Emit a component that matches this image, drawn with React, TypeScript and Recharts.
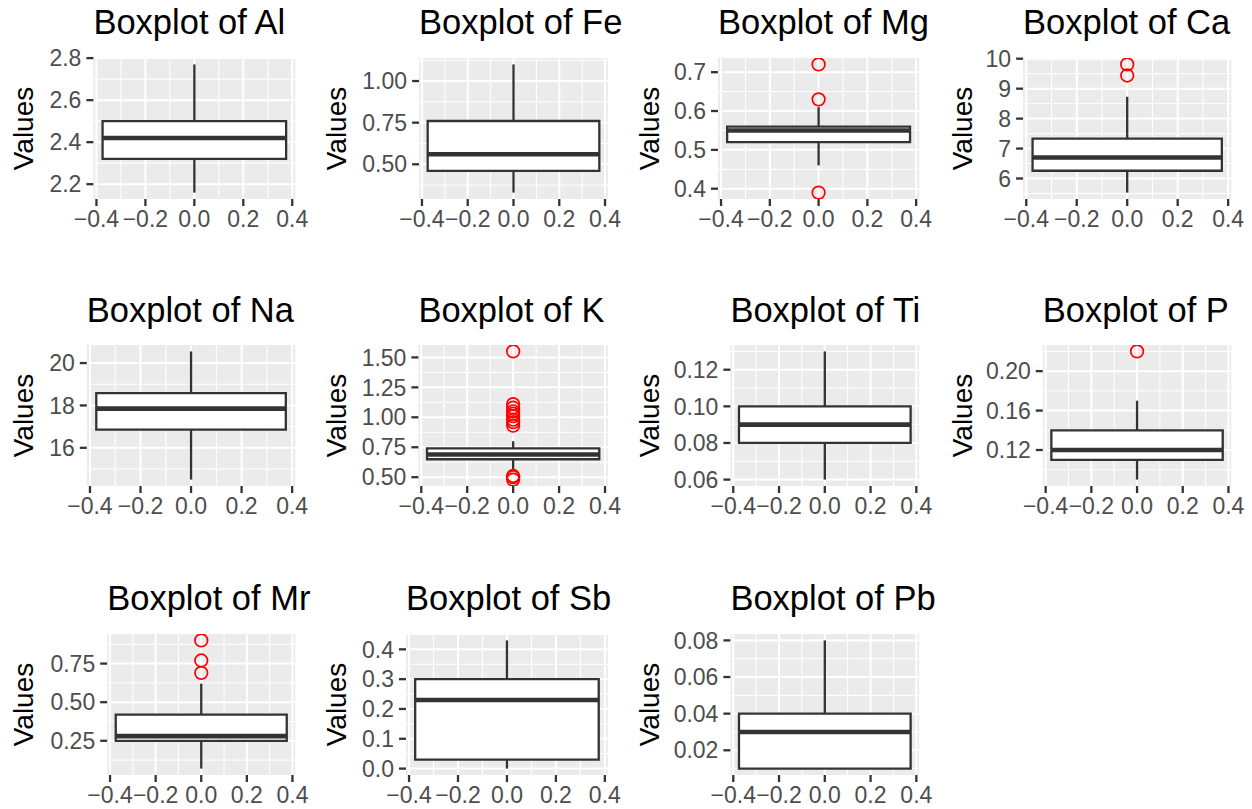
import React from 'react';
import {
  ComposedChart,
  XAxis,
  YAxis,
  CartesianGrid,
  ReferenceArea,
  ReferenceLine,
  Scatter,
} from 'recharts';

// ---------------- data ----------------
const elements = ['Al', 'Fe', 'Mg', 'Ca', 'Na', 'K', 'Ti', 'P', 'Mr', 'Sb', 'Pb'];
const whiskerLow = [2.16, 0.33, 0.46, 5.53, 14.5, 0.56, 0.06, 0.09, 0.07, 0.0, 0.01];
const lowerQuartile = [2.32, 0.46, 0.52, 6.26, 16.86, 0.65, 0.08, 0.11, 0.25, 0.03, 0.01];
const medianValues = [2.42, 0.56, 0.55, 6.7, 17.85, 0.69, 0.09, 0.12, 0.28, 0.23, 0.03];
const upperQuartile = [2.5, 0.76, 0.56, 7.33, 18.58, 0.74, 0.1, 0.14, 0.42, 0.3, 0.04];
const whiskerHigh = [2.77, 1.1, 0.61, 8.73, 20.55, 0.8, 0.13, 0.17, 0.62, 0.43, 0.08];
const outlierValues: number[][] = [
  [],
  [],
  [0.72, 0.63, 0.39],
  [9.81, 9.44],
  [],
  [1.55, 1.11, 1.08, 1.05, 1.03, 1.01, 0.98, 0.96, 0.93, 0.51, 0.5, 0.48],
  [],
  [0.22],
  [0.9, 0.77, 0.69],
  [],
  [],
];
const yTickValues: number[][] = [
  [2.2, 2.4, 2.6, 2.8],
  [0.5, 0.75, 1.0],
  [0.4, 0.5, 0.6, 0.7],
  [6, 7, 8, 9, 10],
  [16, 18, 20],
  [0.5, 0.75, 1.0, 1.25, 1.5],
  [0.06, 0.08, 0.1, 0.12],
  [0.12, 0.16, 0.2],
  [0.25, 0.5, 0.75],
  [0, 0.1, 0.2, 0.3, 0.4],
  [0.02, 0.04, 0.06, 0.08],
];
const yTickDecimals = [1, 2, 1, 0, 0, 2, 2, 2, 2, 1, 2];
const xTickValues = [-0.4, -0.2, 0, 0.2, 0.4];
const titlePrefix = 'Boxplot of ';
const yAxisTitle = 'Values';

// ---------------- layout / style ----------------
const FONT = '"Liberation Sans", Arial, Helvetica, sans-serif';
const CELL_W = 313;
const COL_X = [0, 313, 626, 939];
const ROW_PANEL_TOP = [57.7, 345.3, 633.6];
const PANEL_H = 141;
const RIGHT_MARGIN = [17.7, 18.1, 19.8, 20.7];
const Y_AXIS_W = [93.4, 106.1, 92, 84.1, 86.8, 105.4, 104.4, 103.8, 107.2, 93, 104.4];
const PAD = 16;
const XAXIS_H = 46;
const TITLE_SIZE = 34.5;
const TICK_SIZE = 23;
const AXIS_TITLE_SIZE = 28;
const BOX_HALF = 0.375;
const X_DOMAIN: [number, number] = [-BOX_HALF * 1.1, BOX_HALF * 1.1];
const DARK = '#333333';
const TICK_TEXT = '#4D4D4D';
const PANEL_BG = '#EBEBEB';
const LINE_W = 2.3;
const MEDIAN_W = 4.6;

function fmtX(v: number) {
  const s = Math.abs(v).toFixed(1);
  return v < -1e-9 ? '\u2212' + s : s;
}

function minorBreaks(major: number[], lo: number, hi: number) {
  const step = major[1] - major[0];
  const out: number[] = [];
  out.push(major[0] - step / 2);
  for (let k = 0; k < major.length - 1; k++) out.push((major[k] + major[k + 1]) / 2);
  out.push(major[major.length - 1] + step / 2);
  return out.filter((v) => v > lo && v < hi);
}

const OutlierShape = (p: any) => (
  <circle cx={p.cx} cy={p.cy} r={6.3} fill="none" stroke="#FF0000" strokeWidth={1.7} />
);

const ValuesLabel = (props: any) => {
  const vb = props && props.viewBox ? props.viewBox : {};
  const x = (vb.x ?? 0) + 33.3;
  const y = (vb.y ?? PAD) + (vb.height ?? PANEL_H) / 2;
  return (
    <text
      x={x}
      y={y}
      transform={`rotate(-90 ${x} ${y})`}
      textAnchor="middle"
      fontSize={AXIS_TITLE_SIZE}
      fontFamily={FONT}
      fill="#000000"
    >
      {yAxisTitle}
    </text>
  );
};

function Panel({ i }: { i: number }) {
  const col = i % 4;
  const row = Math.floor(i / 4);
  const cellX = COL_X[col];
  const panelTop = ROW_PANEL_TOP[row];
  const ticks = yTickValues[i];
  const dec = yTickDecimals[i];
  const allVals = [whiskerLow[i], whiskerHigh[i], ...outlierValues[i]];
  const dMin = Math.min(...allVals);
  const dMax = Math.max(...allVals);
  const span = dMax - dMin;
  const yDomain: [number, number] = [dMin - 0.05 * span, dMax + 0.05 * span];
  const minorY = minorBreaks(ticks, yDomain[0], yDomain[1]);
  const minorX = minorBreaks(xTickValues, X_DOMAIN[0], X_DOMAIN[1]);
  const outData = outlierValues[i].map((v) => ({ x: 0, y: v }));
  const statRow = [{ x: 0, y: medianValues[i] }];
  const chartH = PAD + PANEL_H + XAXIS_H;

  return (
    <>
      <div
        style={{
          position: 'absolute',
          left: cellX + Y_AXIS_W[i],
          top: panelTop - 23 - 0.8465 * TITLE_SIZE,
          fontSize: TITLE_SIZE,
          lineHeight: `${TITLE_SIZE}px`,
          fontFamily: FONT,
          whiteSpace: 'nowrap',
          color: '#000000',
        }}
      >
        {titlePrefix + elements[i]}
      </div>
      <div style={{ position: 'absolute', left: cellX, top: panelTop - PAD }}>
        <ComposedChart
          width={CELL_W}
          height={chartH}
          data={statRow}
          margin={{ top: PAD, right: RIGHT_MARGIN[col], bottom: 0, left: 0 }}
        >
          <CartesianGrid
            fill={PANEL_BG}
            fillOpacity={1}
            stroke="#FFFFFF"
            strokeWidth={2}
            syncWithTicks
          />
          <CartesianGrid
            stroke="#FFFFFF"
            strokeWidth={1}
            horizontalValues={minorY}
            verticalValues={minorX}
            syncWithTicks
          />
          <XAxis
            type="number"
            dataKey="x"
            domain={X_DOMAIN}
            ticks={xTickValues}
            allowDataOverflow
            interval={0}
            tickFormatter={fmtX}
            height={XAXIS_H}
            tickSize={7}
            tickMargin={5}
            axisLine={false}
            tickLine={{ stroke: DARK, strokeWidth: LINE_W }}
            tick={{ fill: TICK_TEXT, fontSize: TICK_SIZE, fontFamily: FONT }}
          />
          <YAxis
            type="number"
            dataKey="y"
            domain={yDomain}
            ticks={ticks}
            allowDataOverflow
            interval={0}
            tickFormatter={(v: number) => Number(v).toFixed(dec)}
            width={Y_AXIS_W[i]}
            tickSize={7}
            tickMargin={5}
            axisLine={false}
            tickLine={{ stroke: DARK, strokeWidth: LINE_W }}
            tick={{ fill: TICK_TEXT, fontSize: TICK_SIZE, fontFamily: FONT }}
            label={ValuesLabel}
          />
          <ReferenceLine
            segment={[
              { x: 0, y: upperQuartile[i] },
              { x: 0, y: whiskerHigh[i] },
            ]}
            stroke={DARK}
            strokeWidth={LINE_W}
          />
          <ReferenceLine
            segment={[
              { x: 0, y: whiskerLow[i] },
              { x: 0, y: lowerQuartile[i] },
            ]}
            stroke={DARK}
            strokeWidth={LINE_W}
          />
          <ReferenceArea
            x1={-BOX_HALF}
            x2={BOX_HALF}
            y1={lowerQuartile[i]}
            y2={upperQuartile[i]}
            fill="#FFFFFF"
            fillOpacity={1}
            stroke={DARK}
            strokeWidth={LINE_W}
          />
          <ReferenceLine
            segment={[
              { x: -BOX_HALF, y: medianValues[i] },
              { x: BOX_HALF, y: medianValues[i] },
            ]}
            stroke={DARK}
            strokeWidth={MEDIAN_W}
          />
          {outData.length > 0 && (
            <Scatter
              data={outData}
              dataKey="y"
              isAnimationActive={false}
              shape={OutlierShape}
            />
          )}
        </ComposedChart>
      </div>
    </>
  );
}

export default function App() {
  return (
    <div
      style={{
        position: 'absolute',
        left: 0,
        top: 0,
        width: 1252,
        height: 809,
        background: '#FFFFFF',
        overflow: 'hidden',
      }}
    >
      {elements.map((_, i) => (
        <Panel key={i} i={i} />
      ))}
    </div>
  );
}
